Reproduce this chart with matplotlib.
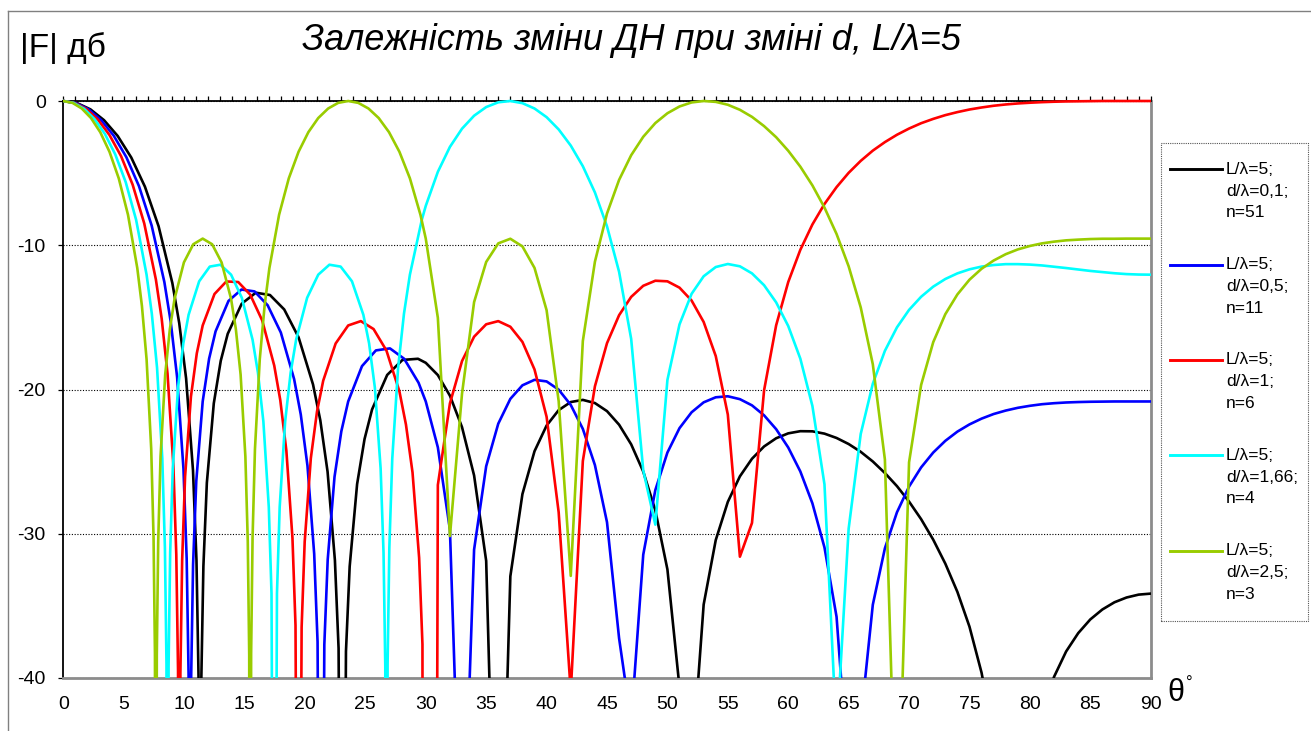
import matplotlib
matplotlib.use('Agg')
import matplotlib.pyplot as plt
from matplotlib.lines import Line2D
from matplotlib.patches import Rectangle
from matplotlib.transforms import Bbox, TransformedBbox

plt.rcParams['font.family'] = ['Liberation Sans', 'DejaVu Sans']
plt.rcParams['axes.unicode_minus'] = False

# |F| in dB against theta (degrees).
# Below 30 deg the points follow the lobes closely; from 30 to 90 deg one value per degree.
theta_high = list(range(30, 91))

theta_black_low = [0, 1.124, 2.248, 3.372, 4.498, 5.626, 6.756, 7.889, 9.025, 9.594, 10.164, 10.735, 11.022, 11.193, 11.308, 11.423,
                   11.595, 11.881, 12.456, 13.032, 13.609, 14.768, 15.933, 17.105, 18.284, 19.472, 20.668, 21.270, 21.873, 22.480, 22.784, 23.089,
                   23.395, 23.702, 24.317, 24.934, 25.556, 26.807, 28.073, 29.355]
db_black_low = [0, -0.14, -0.58, -1.33, -2.42, -3.92, -5.94, -8.69, -12.62, -15.39, -19.23, -25.61, -31.83, -39.91, -80, -40.09,
                -32.26, -26.47, -20.96, -18.01, -16.14, -14.05, -13.29, -13.45, -14.45, -16.38, -19.65, -22.13, -25.70, -31.84, -37.94, -80,
                -38.16, -32.27, -26.56, -23.43, -21.38, -18.99, -17.95, -17.87]
db_black_high = [-18.15, -19.00, -20.43, -22.61, -25.96, -31.88, -62.25, -32.95, -27.25, -24.28,
                 -22.50, -21.43, -20.87, -20.72, -20.94, -21.50, -22.44, -23.80, -25.69, -28.38,
                 -32.47, -40.64, -46.44, -34.91, -30.44, -27.79, -26.02, -24.80, -23.95, -23.38,
                 -23.04, -22.89, -22.90, -23.06, -23.36, -23.78, -24.32, -24.99, -25.79, -26.70,
                 -27.77, -28.99, -30.41, -32.07, -34.03, -36.44, -39.63, -44.06, -52.65, -57.86,
                 -46.83, -42.51, -39.92, -38.16, -36.89, -35.94, -35.25, -34.75, -34.42, -34.22,
                 -34.15]

theta_blue_low = [0, 1.042, 2.084, 3.127, 4.171, 5.216, 6.263, 7.312, 8.364, 8.890, 9.418, 9.946, 10.211, 10.370, 10.476, 10.582,
                  10.741, 11.006, 11.537, 12.069, 12.603, 13.673, 14.747, 15.827, 16.913, 18.004, 19.104, 19.656, 20.210, 20.766, 21.045, 21.324,
                  21.604, 21.884, 22.447, 23.011, 23.579, 24.721, 25.873, 27.036, 28.212, 29.402]
db_blue_low = [0, -0.14, -0.57, -1.32, -2.40, -3.89, -5.90, -8.63, -12.55, -15.30, -19.13, -25.50, -31.72, -39.79, -80, -39.97,
               -32.14, -26.35, -20.83, -17.86, -15.97, -13.86, -13.07, -13.20, -14.16, -16.05, -19.28, -21.74, -25.29, -31.40, -37.50, -80,
               -37.69, -31.79, -26.06, -22.90, -20.83, -18.38, -17.29, -17.15, -17.87, -19.53]
db_blue_high = [-20.83, -24.01, -29.72, -55.41, -31.10, -25.32, -22.37, -20.65, -19.71, -19.33,
                -19.44, -20.01, -21.07, -22.73, -25.24, -29.20, -37.24, -43.07, -31.45, -26.97,
                -24.37, -22.68, -21.58, -20.89, -20.54, -20.47, -20.67, -21.10, -21.79, -22.75,
                -24.02, -25.68, -27.89, -30.95, -35.76, -47.10, -43.03, -34.92, -31.01, -28.51,
                -26.73, -25.40, -24.37, -23.56, -22.92, -22.42, -22.02, -21.70, -21.46, -21.27,
                -21.13, -21.02, -20.95, -20.90, -20.87, -20.85, -20.84, -20.83, -20.83, -20.83,
                -20.83]

theta_red_low = [0, 0.955, 1.910, 2.866, 3.823, 4.780, 5.739, 6.700, 7.662, 8.144, 8.627, 9.110, 9.352, 9.497, 9.594, 9.691,
                 9.837, 10.079, 10.564, 11.050, 11.537, 12.514, 13.494, 14.478, 15.467, 16.460, 17.458, 17.959, 18.462, 18.966, 19.219, 19.472,
                 19.725, 19.979, 20.488, 20.998, 21.511, 22.541, 23.579, 24.625, 25.680, 26.745, 27.819, 28.360, 28.904, 29.451, 29.726]
db_red_low = [0, -0.14, -0.56, -1.29, -2.36, -3.82, -5.80, -8.49, -12.37, -15.10, -18.91, -25.25, -31.45, -39.52, -80, -39.68,
              -31.84, -26.04, -20.49, -17.49, -15.56, -13.38, -12.51, -12.55, -13.42, -15.21, -18.34, -20.74, -24.24, -30.29, -36.35, -80,
              -36.49, -30.55, -24.76, -21.53, -19.39, -16.81, -15.56, -15.26, -15.81, -17.30, -20.13, -22.43, -25.75, -31.67, -37.67]
db_red_high = [-300, -26.62, -20.96, -18.03, -16.34, -15.48, -15.26, -15.65, -16.70, -18.61,
               -21.89, -28.51, -40.94, -24.96, -19.78, -16.79, -14.85, -13.58, -12.81, -12.46,
               -12.50, -12.94, -13.83, -15.32, -17.68, -21.74, -31.59, -29.25, -20.06, -15.55,
               -12.55, -10.32, -8.56, -7.14, -5.97, -4.98, -4.15, -3.44, -2.85, -2.34,
               -1.91, -1.54, -1.24, -0.98, -0.77, -0.59, -0.45, -0.33, -0.24, -0.17,
               -0.12, -0.08, -0.05, -0.03, -0.02, -0.01, 0, 0, 0, 0,
               0]

theta_cyan_low = [0, 0.859, 1.719, 2.579, 3.440, 4.301, 5.164, 6.027, 6.892, 7.325, 7.759, 8.193, 8.410, 8.540, 8.627, 8.714,
                  8.845, 9.062, 9.498, 9.933, 10.370, 11.245, 12.123, 13.003, 13.887, 14.774, 15.665, 16.111, 16.559, 17.008, 17.233, 17.458,
                  17.684, 17.909, 18.362, 18.815, 19.269, 20.182, 21.101, 22.024, 22.955, 23.892, 24.835, 25.310, 25.786, 26.264, 26.504, 26.649, 26.745,
                  26.841, 26.985, 27.227, 27.711, 28.197, 28.686, 29.671]
db_cyan_low = [0, -0.13, -0.54, -1.25, -2.28, -3.70, -5.62, -8.24, -12.04, -14.74, -18.49, -24.79, -30.96, -39.02, -80, -39.16,
               -31.31, -25.47, -19.86, -16.80, -14.82, -12.50, -11.48, -11.35, -12.04, -13.64, -16.55, -18.84, -22.21, -28.15, -34.15, -80,
               -34.15, -28.15, -22.21, -18.84, -16.55, -13.64, -12.04, -11.35, -11.48, -12.50, -14.82, -16.80, -19.86, -25.47, -31.31, -39.16, -80,
               -39.02, -30.96, -24.79, -18.49, -14.74, -12.04, -8.24]
db_cyan_high = [-7.27, -4.91, -3.18, -1.92, -1.02, -0.42, -0.09, 0, -0.15, -0.52,
                -1.12, -1.97, -3.09, -4.52, -6.34, -8.69, -11.84, -16.49, -25.60, -29.37,
                -19.34, -15.49, -13.37, -12.15, -11.51, -11.30, -11.46, -11.95, -12.77, -13.96,
                -15.60, -17.86, -21.14, -26.58, -43.99, -29.65, -23.08, -19.60, -17.32, -15.69,
                -14.48, -13.57, -12.87, -12.34, -11.95, -11.67, -11.48, -11.37, -11.31, -11.31,
                -11.34, -11.40, -11.49, -11.58, -11.68, -11.78, -11.86, -11.94, -12.00, -12.03,
                -12.04]

theta_green_low = [0, 0.764, 1.528, 2.292, 3.057, 3.823, 4.589, 5.355, 6.123, 6.508, 6.892, 7.277, 7.470, 7.585, 7.662, 7.739,
                   7.855, 8.048, 8.434, 8.820, 9.207, 9.982, 10.759, 11.537, 12.318, 13.101, 13.887, 14.281, 14.675, 15.070, 15.268, 15.387, 15.467,
                   15.546, 15.665, 15.863, 16.261, 16.659, 17.058, 17.859, 18.664, 19.472, 20.284, 21.101, 21.922, 22.748, 23.579,
                   24.415, 25.257, 26.104, 26.958, 27.819, 28.686, 29.561]
db_green_low = [0, -0.13, -0.52, -1.18, -2.16, -3.52, -5.36, -7.89, -11.58, -14.21, -17.90, -24.13, -30.27, -38.30, -80, -38.40,
                -30.53, -24.65, -18.96, -15.81, -13.72, -11.19, -9.93, -9.54, -9.93, -11.19, -13.72, -15.81, -18.96, -24.65, -30.53, -38.40, -80,
                -38.30, -30.27, -24.13, -17.90, -14.21, -11.58, -7.89, -5.36, -3.52, -2.16, -1.18, -0.52, -0.13, 0,
                -0.13, -0.52, -1.18, -2.16, -3.52, -5.36, -7.89]
db_green_high = [-9.54, -15.03, -30.16, -20.29, -13.94, -11.16, -9.87, -9.55, -10.08, -11.57,
                 -14.50, -20.81, -32.92, -16.64, -11.14, -7.80, -5.47, -3.76, -2.48, -1.53,
                 -0.85, -0.38, -0.10, 0, -0.06, -0.26, -0.61, -1.10, -1.74, -2.51,
                 -3.45, -4.55, -5.85, -7.39, -9.22, -11.46, -14.31, -18.25, -24.85, -53.0,
                 -25.05, -19.68, -16.72, -14.78, -13.41, -12.39, -11.63, -11.06, -10.62, -10.29,
                 -10.05, -9.87, -9.75, -9.66, -9.61, -9.57, -9.55, -9.55, -9.54, -9.54,
                 -9.54]

labels = ['L/λ=5;\nd/λ=0,1;\nn=51', 'L/λ=5;\nd/λ=0,5;\nn=11', 'L/λ=5;\nd/λ=1;\nn=6',
          'L/λ=5;\nd/λ=1,66;\nn=4', 'L/λ=5;\nd/λ=2,5;\nn=3']
colors = ['#000000', '#0000ff', '#ff0000', '#00ffff', '#99cc00']
x_ticks = list(range(0, 91, 5))
y_ticks = [0, -10, -20, -30, -40]

series = [
    (theta_black_low + theta_high, db_black_low + db_black_high),
    (theta_blue_low + theta_high, db_blue_low + db_blue_high),
    (theta_red_low + theta_high, db_red_low + db_red_high),
    (theta_cyan_low + theta_high, db_cyan_low + db_cyan_high),
    (theta_green_low + theta_high, db_green_low + db_green_high),
]

W, H = 1311, 731
fig = plt.figure(figsize=(W / 100, H / 100), dpi=100)
ax = fig.add_axes([63.3 / W, 1 - 678 / H, (1150.7 - 63.3) / W, (678 - 101) / H])

clip = TransformedBbox(Bbox([[0, 0], [1, 1.006]]), ax.transAxes)
for (th, db), col in zip(series, colors):
    ln, = ax.plot(th, db, color=col, lw=1.9, solid_joinstyle='round', zorder=3)
    ln.set_clip_box(clip)

ax.set_xlim(0, 90)
ax.set_ylim(-40, 0)
ax.set_xticks(x_ticks)
ax.set_xticklabels([str(v) for v in x_ticks])
ax.set_xticks(range(0, 91), minor=True)
ax.tick_params(axis='x', which='both', bottom=False, top=True, labelbottom=True, labeltop=False,
               direction='out', length=3.6, width=0.9, color='black', pad=9.5, labelsize=14)
ax.set_yticks(y_ticks)
ax.set_yticklabels([str(v) for v in y_ticks])
ax.tick_params(axis='y', direction='out', length=3.6, width=0.9, pad=9, labelsize=14)
ax.yaxis.grid(True, linestyle=(0, (1, 1.5)), color='black', lw=0.8)

ax.spines['left'].set_color('black')
ax.spines['left'].set_linewidth(1.3)
ax.spines['top'].set_color('black')
ax.spines['top'].set_linewidth(1.3)
ax.spines['bottom'].set_color('#8c8c8c')
ax.spines['bottom'].set_linewidth(2)
ax.spines['right'].set_color('#8c8c8c')
ax.spines['right'].set_linewidth(2)

# texts
fig.text(20 / W, 1 - 48 / H, '|F| дб', fontsize=24, ha='left', va='center')
fig.text(631 / W, 1 - 40 / H, 'Залежність зміни ДН при зміні d, L/λ=5', fontsize=26,
         style='italic', ha='center', va='center')
fig.text(1167 / W, 1 - 693 / H, 'θ', fontsize=22, ha='left', va='center')
fig.text(1186 / W, 1 - 683 / H, '°', fontsize=12, ha='left', va='center')

# legend
for i, (lab, col) in enumerate(zip(labels, colors)):
    hy = 169.3 + 95.3 * i
    fig.add_artist(Line2D([1170 / W, 1222 / W], [1 - hy / H, 1 - hy / H], color=col, lw=2.1))
    for j, row in enumerate(lab.split('\n')):
        fig.text(1226 / W, 1 - (hy + 21.8 * j) / H, row, fontsize=12.5, ha='left', va='center')
fig.add_artist(Rectangle((1161 / W, 1 - 620.7 / H), (1308 - 1161) / W, (620.7 - 142.7) / H,
                         fill=False, edgecolor='#555555', lw=0.8, linestyle=(0, (1, 1))))

# chart frame
fig.add_artist(Line2D([8 / W, 8 / W], [0, 1 - 11 / H], color='#808080', lw=1))
fig.add_artist(Line2D([8 / W, 1], [1 - 11 / H, 1 - 11 / H], color='#808080', lw=1))

fig.savefig('out.png', dpi=100)
